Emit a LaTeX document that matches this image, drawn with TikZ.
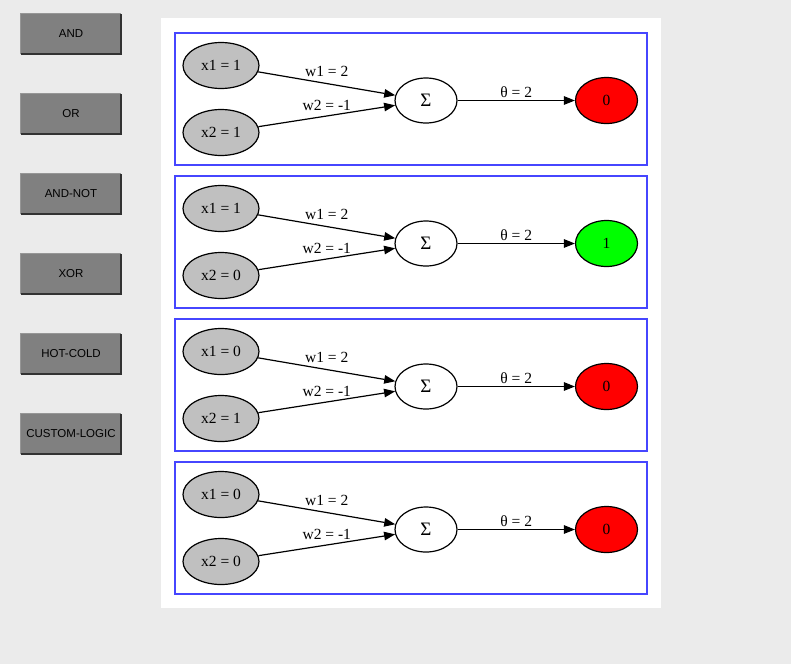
\documentclass[tikz,border=0pt]{standalone}
\usepackage{fontspec}
\setmainfont{Liberation Serif}
\newfontfamily\btnfont{Liberation Sans}
\usepackage{tikz}
\usetikzlibrary{shapes.geometric}
\usetikzlibrary{arrows.meta}
\usetikzlibrary{positioning}
\usepackage{xcolor}

\definecolor{pagegray}{RGB}{235,235,235}
\definecolor{btngray}{RGB}{128,128,128}
\definecolor{btnedge}{RGB}{50,50,50}
\definecolor{btnlight}{RGB}{150,150,150}
\definecolor{ingray}{RGB}{192,192,192}
\definecolor{boxblue}{RGB}{70,70,255}
\definecolor{outred}{RGB}{255,0,0}
\definecolor{outgreen}{RGB}{0,255,0}

\begin{document}
\begin{tikzpicture}[x=1pt, y=-1pt]
        % ================= 样式定义 =================
        \tikzset{
            % 左侧按钮
            btn/.style={rectangle, fill=btngray, minimum width=100pt, minimum height=40pt, inner sep=0pt, font=\btnfont\fontsize{11.5}{13}\selectfont},
            % 输入节点:灰底椭圆
            innode/.style={ellipse, draw=black, line width=1.2pt, fill=ingray, minimum width=76pt, minimum height=46pt, inner sep=0pt, font=\fontsize{15.5}{18}\selectfont},
            % 求和节点
            sumnode/.style={ellipse, draw=black, line width=1.2pt, fill=white, minimum width=62pt, minimum height=45pt, inner sep=0pt, font=\fontsize{19}{22}\selectfont},
            % 输出节点
            outnode/.style={ellipse, draw=black, line width=1.2pt, minimum width=62pt, minimum height=46pt, inner sep=0pt, font=\fontsize{15.5}{18}\selectfont},
            % 有向边与标签
            wedge/.style={line width=1.2pt, -{Triangle[length=11pt, width=8.5pt]}},
            wlabel/.style={font=\fontsize{15.5}{18}\selectfont, inner sep=2pt},
            % 外框
            panelbox/.style={draw=boxblue, line width=1.2pt}
        }

        % ================= 背景 =================
        \useasboundingbox (0,0) rectangle (791,664);
        \fill[pagegray] (0,0) rectangle (791,664);
        \fill[white] (161,18) rectangle (661,608);

        % ================= 左侧按钮 =================
        \foreach \k/\txt in {0/AND, 1/OR, 2/AND-NOT, 3/XOR, 4/HOT-COLD, 5/CUSTOM-LOGIC} {
            \node[btn] (btn\k) at (71, 34 + 80*\k) {\txt};
            \draw[btnlight, line width=1pt] (btn\k.south west) -- (btn\k.north west) -- (btn\k.north east);
            \draw[btnedge, line width=1.5pt] (btn\k.south west) -- (btn\k.south east) -- (btn\k.north east);
        }

        % ================= 四个感知器 =================
        \foreach \i/\a/\b/\o/\c in {0/1/1/0/outred, 1/1/0/1/outgreen, 2/0/1/0/outred, 3/0/0/0/outred} {
            \begin{scope}[shift={(0, 33 + 143*\i)}]
                \draw[panelbox] (175,0) rectangle (647,132);

                % 节点
                \node[innode] (x1-\i) at (221, 32.5) {x1 = \a};
                \node[innode] (x2-\i) at (221, 99.5) {x2 = \b};
                \node[sumnode] (sig-\i) at (426, 67.5) {Σ};
                \node[outnode, fill=\c] (out-\i) at (606.5, 67.5) {\o};

                % 边
                \draw[wedge] (x1-\i) -- node[wlabel, midway, above=4pt] {w1 = 2} (sig-\i);
                \draw[wedge] (x2-\i) -- node[wlabel, midway, above=3pt] {w2 = -1} (sig-\i);
                \draw[wedge] (sig-\i) -- node[wlabel, midway, above=0.5pt] {θ = 2} (out-\i);
            \end{scope}
        }

    \end{tikzpicture}
\end{document}
